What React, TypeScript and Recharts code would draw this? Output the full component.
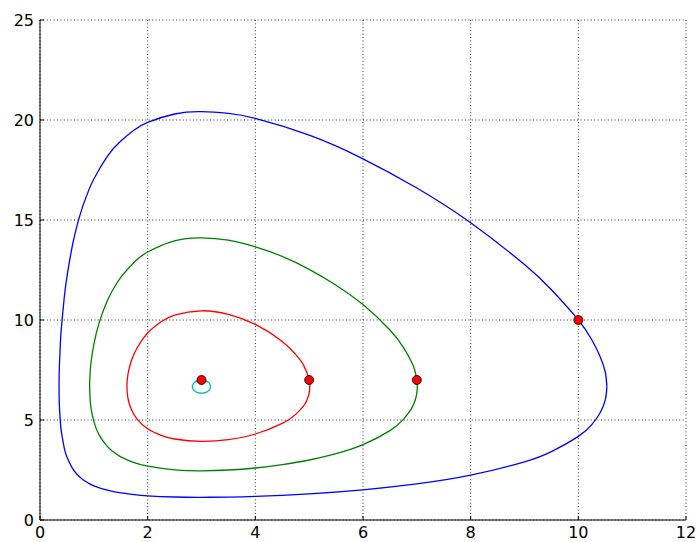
import { ScatterChart, Scatter, XAxis, YAxis, CartesianGrid } from "recharts";

const xTicks = [0, 2, 4, 6, 8, 10, 12];
const yTicks = [0, 5, 10, 15, 20, 25];

// closed orbits (x, y)
const blueOrbit = [
  { x: 10.53, y: 6.67 }, { x: 10.5, y: 7.4 }, { x: 10.4, y: 8.2 }, { x: 10.25, y: 9.01 },
  { x: 10, y: 10 }, { x: 9.5, y: 11.51 }, { x: 9, y: 12.77 }, { x: 8, y: 14.86 },
  { x: 7, y: 16.6 }, { x: 6, y: 18.06 }, { x: 5, y: 19.24 }, { x: 4, y: 20.08 },
  { x: 3.5, y: 20.33 }, { x: 3, y: 20.42 }, { x: 2.5, y: 20.3 }, { x: 2, y: 19.88 },
  { x: 1.75, y: 19.5 }, { x: 1.5, y: 18.95 }, { x: 1.25, y: 18.18 }, { x: 1, y: 17.05 },
  { x: 0.9, y: 16.45 }, { x: 0.8, y: 15.73 }, { x: 0.7, y: 14.84 }, { x: 0.6, y: 13.7 },
  { x: 0.5, y: 12.16 }, { x: 0.45, y: 11.11 }, { x: 0.4, y: 9.7 }, { x: 0.38, y: 8.91 },
  { x: 0.36, y: 7.7 }, { x: 0.355, y: 7.0 }, { x: 0.354, y: 6.67 }, { x: 0.36, y: 5.73 },
  { x: 0.38, y: 4.84 }, { x: 0.4, y: 4.35 }, { x: 0.45, y: 3.61 }, { x: 0.5, y: 3.15 },
  { x: 0.6, y: 2.59 }, { x: 0.7, y: 2.25 }, { x: 0.8, y: 2.01 }, { x: 0.9, y: 1.84 },
  { x: 1, y: 1.71 }, { x: 1.25, y: 1.49 }, { x: 1.5, y: 1.356 }, { x: 1.75, y: 1.27 },
  { x: 2, y: 1.21 }, { x: 2.5, y: 1.15 }, { x: 3, y: 1.134 }, { x: 3.5, y: 1.147 },
  { x: 4, y: 1.18 }, { x: 5, y: 1.31 }, { x: 6, y: 1.51 }, { x: 7, y: 1.805 },
  { x: 8, y: 2.24 }, { x: 9, y: 2.91 }, { x: 9.5, y: 3.42 }, { x: 10, y: 4.18 },
  { x: 10.25, y: 4.77 }, { x: 10.4, y: 5.34 }, { x: 10.5, y: 5.99 }, { x: 10.53, y: 6.67 },
];

const greenOrbit = [
  { x: 7.01, y: 6.67 }, { x: 7.0, y: 7.0 }, { x: 6.96, y: 7.5 }, { x: 6.9, y: 7.91 },
  { x: 6.75, y: 8.63 }, { x: 6.5, y: 9.5 }, { x: 6, y: 10.77 }, { x: 5.5, y: 11.74 },
  { x: 5, y: 12.53 }, { x: 4.5, y: 13.18 }, { x: 4, y: 13.66 }, { x: 3.5, y: 13.99 },
  { x: 3, y: 14.11 }, { x: 2.5, y: 13.96 }, { x: 2, y: 13.4 }, { x: 1.75, y: 12.89 },
  { x: 1.5, y: 12.13 }, { x: 1.35, y: 11.49 }, { x: 1.25, y: 10.96 }, { x: 1.1, y: 9.87 },
  { x: 1.0, y: 8.78 }, { x: 0.95, y: 7.92 }, { x: 0.935, y: 7.5 }, { x: 0.924, y: 7.0 },
  { x: 0.922, y: 6.67 }, { x: 0.932, y: 6.0 }, { x: 0.95, y: 5.56 }, { x: 1.0, y: 4.93 },
  { x: 1.1, y: 4.245 }, { x: 1.25, y: 3.68 }, { x: 1.35, y: 3.43 }, { x: 1.5, y: 3.16 },
  { x: 1.75, y: 2.87 }, { x: 2, y: 2.69 }, { x: 2.5, y: 2.51 }, { x: 3, y: 2.46 },
  { x: 3.5, y: 2.5 }, { x: 4, y: 2.6 }, { x: 4.5, y: 2.77 }, { x: 5, y: 3.0 },
  { x: 5.5, y: 3.32 }, { x: 6, y: 3.77 }, { x: 6.5, y: 4.47 }, { x: 6.75, y: 5.03 },
  { x: 6.9, y: 5.57 }, { x: 6.97, y: 6.0 }, { x: 7.0, y: 6.34 }, { x: 7.01, y: 6.67 },
];

const redOrbit = [
  { x: 5.01, y: 6.67 }, { x: 5.0, y: 7.0 }, { x: 4.9, y: 7.72 }, { x: 4.75, y: 8.27 },
  { x: 4.5, y: 8.93 }, { x: 4, y: 9.78 }, { x: 3.5, y: 10.28 }, { x: 3, y: 10.46 },
  { x: 2.5, y: 10.24 }, { x: 2.25, y: 9.91 }, { x: 2.0, y: 9.35 }, { x: 1.8, y: 8.59 },
  { x: 1.7, y: 7.99 }, { x: 1.65, y: 7.51 }, { x: 1.632, y: 7.25 }, { x: 1.621, y: 7.0 },
  { x: 1.615, y: 6.67 }, { x: 1.625, y: 6.25 }, { x: 1.65, y: 5.9 }, { x: 1.7, y: 5.51 },
  { x: 1.8, y: 5.06 }, { x: 2.0, y: 4.56 }, { x: 2.25, y: 4.23 }, { x: 2.5, y: 4.05 },
  { x: 3, y: 3.93 }, { x: 3.5, y: 4.02 }, { x: 4, y: 4.3 }, { x: 4.5, y: 4.83 },
  { x: 4.75, y: 5.28 }, { x: 4.9, y: 5.72 }, { x: 4.96, y: 6.0 }, { x: 5.0, y: 6.34 },
  { x: 5.01, y: 6.67 },
];

const cyanOrbit = [
  { x: 3.17, y: 6.67 }, { x: 3.147, y: 6.835 }, { x: 3.085, y: 6.956 }, { x: 3.0, y: 7.0 },
  { x: 2.915, y: 6.956 }, { x: 2.853, y: 6.835 }, { x: 2.83, y: 6.67 }, { x: 2.853, y: 6.505 },
  { x: 2.915, y: 6.384 }, { x: 3.0, y: 6.34 }, { x: 3.085, y: 6.384 }, { x: 3.147, y: 6.505 },
  { x: 3.17, y: 6.67 },
];

const startPoints = [
  { x: 3, y: 7 },
  { x: 5, y: 7 },
  { x: 7, y: 7 },
  { x: 10, y: 10 },
];

const FONT = "'DejaVu Sans', sans-serif";

function Tick({ x, y, payload, side }: any) {
  if (side === "bottom") {
    return (
      <g>
        <line x1={x} y1={y} x2={x} y2={y - 4} stroke="#000" />
        <text x={x} y={y + 18} textAnchor="middle" fontSize={16} fontFamily={FONT} fill="#000">
          {payload.value}
        </text>
      </g>
    );
  }
  if (side === "left") {
    return (
      <g>
        <line x1={x} y1={y} x2={x + 4} y2={y} stroke="#000" />
        <text x={x - 6} y={y + 6} textAnchor="end" fontSize={16} fontFamily={FONT} fill="#000">
          {payload.value}
        </text>
      </g>
    );
  }
  if (side === "top") return <line x1={x} y1={y} x2={x} y2={y + 4} stroke="#000" />;
  return <line x1={x} y1={y} x2={x - 4} y2={y} stroke="#000" />;
}

const noShape = () => <g />;

const dot = (p: any) => (
  <circle cx={p.cx} cy={p.cy} r={4.5} fill="#ff0000" stroke="#000" strokeWidth={0.8} />
);

export default function App() {
  return (
    <div style={{ position: "absolute", left: 0, top: 0, background: "#fff" }}>
      <ScatterChart width={697} height={542} margin={{ top: 20, right: 11, bottom: 0, left: 0 }}>
        <CartesianGrid stroke="#000" strokeWidth={0.8} strokeDasharray="1 2.4" />
        <XAxis
          dataKey="x"
          type="number"
          domain={[0, 12]}
          ticks={xTicks}
          height={22}
          tickSize={0}
          tickMargin={0}
          tickLine={false}
          axisLine={{ stroke: "#000" }}
          tick={(p: any) => <Tick {...p} side="bottom" />}
          allowDataOverflow
        />
        <XAxis
          xAxisId="top"
          orientation="top"
          type="number"
          domain={[0, 12]}
          ticks={xTicks}
          height={0}
          tickSize={0}
          tickMargin={0}
          tickLine={false}
          axisLine={{ stroke: "#000" }}
          tick={(p: any) => <Tick {...p} side="top" />}
        />
        <YAxis
          dataKey="y"
          type="number"
          domain={[0, 25]}
          ticks={yTicks}
          width={40}
          tickSize={0}
          tickMargin={0}
          tickLine={false}
          axisLine={{ stroke: "#000" }}
          tick={(p: any) => <Tick {...p} side="left" />}
          allowDataOverflow
        />
        <YAxis
          yAxisId="right"
          orientation="right"
          type="number"
          domain={[0, 25]}
          ticks={yTicks}
          width={0}
          tickSize={0}
          tickMargin={0}
          tickLine={false}
          axisLine={{ stroke: "#000" }}
          tick={(p: any) => <Tick {...p} side="right" />}
        />
        <Scatter data={blueOrbit} line={{ stroke: "#0000ff", strokeWidth: 1.3 }} lineType="joint" lineJointType="natural" shape={noShape} isAnimationActive={false} />
        <Scatter data={greenOrbit} line={{ stroke: "#008000", strokeWidth: 1.3 }} lineType="joint" lineJointType="natural" shape={noShape} isAnimationActive={false} />
        <Scatter data={redOrbit} line={{ stroke: "#ff0000", strokeWidth: 1.3 }} lineType="joint" lineJointType="natural" shape={noShape} isAnimationActive={false} />
        <Scatter data={cyanOrbit} line={{ stroke: "#00bfbf", strokeWidth: 1.3 }} lineType="joint" lineJointType="natural" shape={noShape} isAnimationActive={false} />
        <Scatter data={startPoints} shape={dot} isAnimationActive={false} />
      </ScatterChart>
    </div>
  );
}
